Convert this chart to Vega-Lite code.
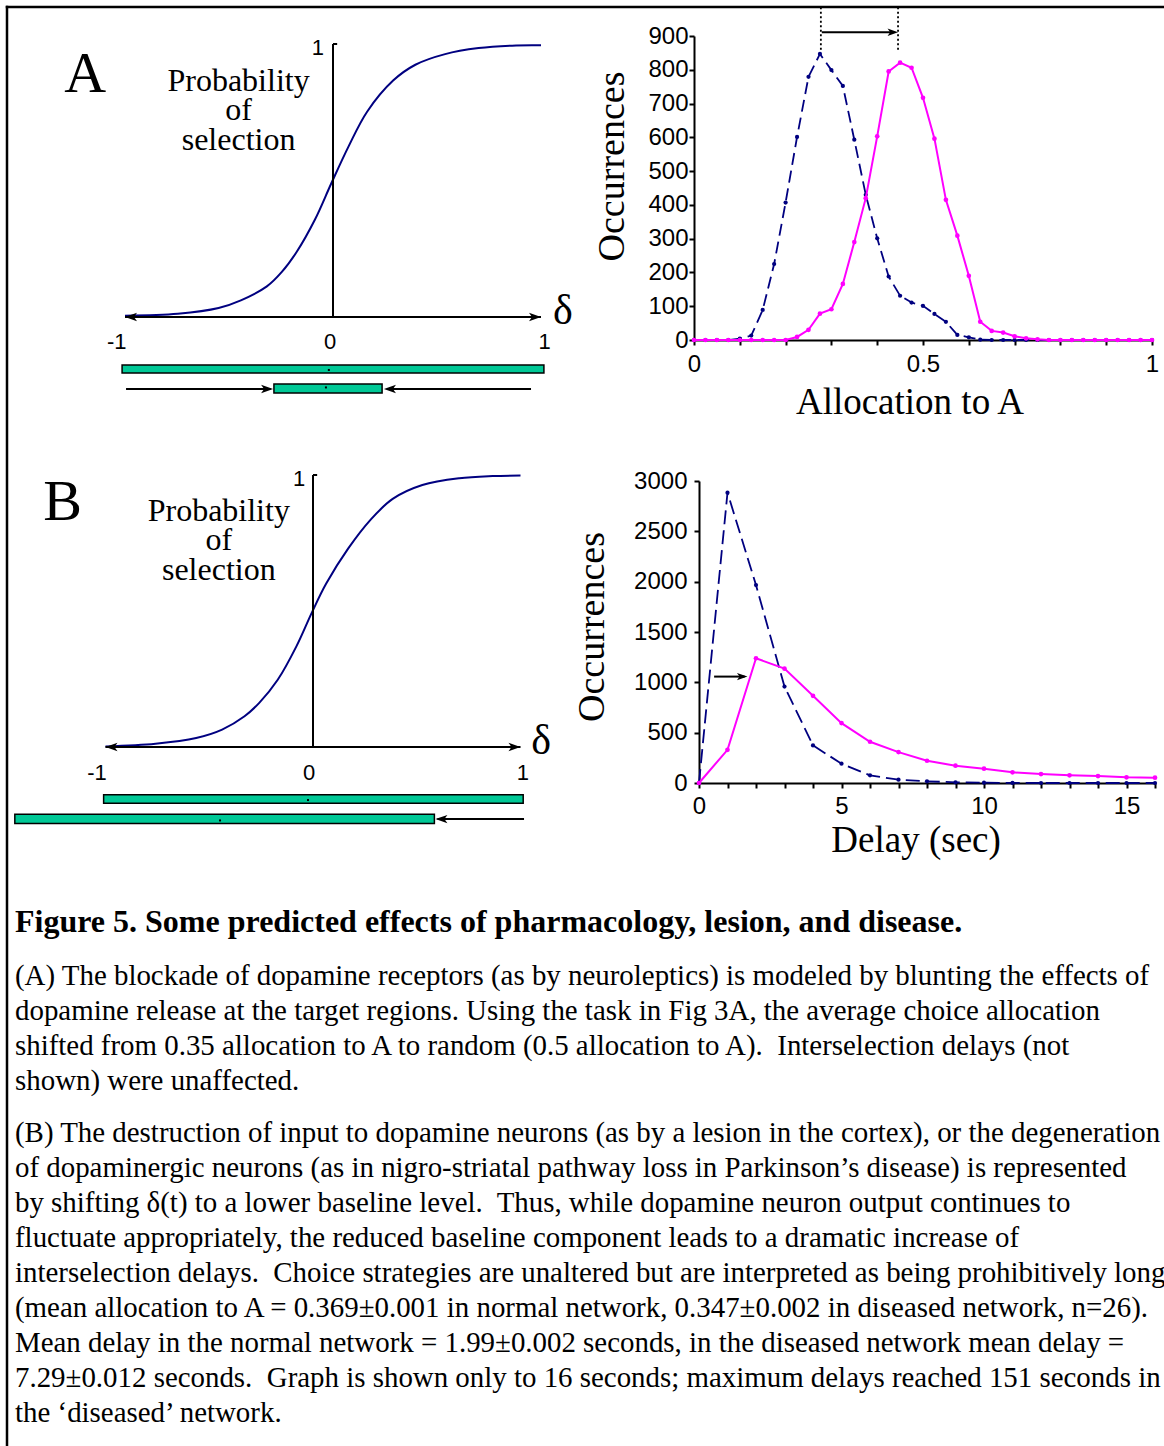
{
  "$schema": "https://vega.github.io/schema/vega-lite/v6.json",
  "width": 1164,
  "height": 1446,
  "autosize": "none",
  "padding": 0,
  "background": "white",
  "config": {
    "view": {"stroke": null},
    "axis": {"domainColor": "black", "tickColor": "black", "labelColor": "black", "titleColor": "black", "domainWidth": 2, "tickWidth": 2, "tickSize": 5, "grid": false, "labelFont": "Liberation Sans", "labelFontSize": 24, "titleFont": "Liberation Serif", "titleFontWeight": "normal", "labelFlush": false, "labelOverlap": false}
  },
  "resolve": {"scale": {"x": "independent", "y": "independent"}, "axis": {"x": "independent", "y": "independent"}},
  "datasets": {
    "sigmoid": [
      {"panel":"A","x":-1,"y":0.005},{"panel":"A","x":-0.746,"y":0.012},{"panel":"A","x":-0.55,"y":0.033},{"panel":"A","x":-0.443,"y":0.061},{"panel":"A","x":-0.318,"y":0.112},{"panel":"A","x":-0.246,"y":0.165},{"panel":"A","x":-0.175,"y":0.238},{"panel":"A","x":-0.086,"y":0.358},{"panel":"A","x":-0.009,"y":0.488},{"panel":"A","x":0.075,"y":0.625},{"panel":"A","x":0.164,"y":0.752},{"panel":"A","x":0.289,"y":0.866},{"panel":"A","x":0.396,"y":0.924},{"panel":"A","x":0.539,"y":0.963},{"panel":"A","x":0.7,"y":0.985},{"panel":"A","x":0.861,"y":0.994},{"panel":"A","x":1,"y":0.995},
      {"panel":"B","x":-1,"y":0.002},{"panel":"B","x":-0.759,"y":0.012},{"panel":"B","x":-0.563,"y":0.033},{"panel":"B","x":-0.438,"y":0.064},{"panel":"B","x":-0.33,"y":0.113},{"panel":"B","x":-0.259,"y":0.162},{"panel":"B","x":-0.17,"y":0.247},{"panel":"B","x":-0.08,"y":0.37},{"panel":"B","x":-0.005,"y":0.495},{"panel":"B","x":0.063,"y":0.6},{"panel":"B","x":0.17,"y":0.73},{"panel":"B","x":0.277,"y":0.835},{"panel":"B","x":0.384,"y":0.912},{"panel":"B","x":0.527,"y":0.963},{"panel":"B","x":0.705,"y":0.988},{"panel":"B","x":0.866,"y":0.996},{"panel":"B","x":1,"y":0.998}
    ],
    "leftBars": [
      {"panel":"A","x":-1.014,"x2":1.014,"y":-0.205,"y2":-0.176},
      {"panel":"A","x":-0.284,"x2":0.236,"y":-0.278,"y2":-0.245},
      {"panel":"B","x":-1.009,"x2":1.013,"y":-0.207,"y2":-0.176},
      {"panel":"B","x":-1.437,"x2":0.585,"y":-0.281,"y2":-0.247}
    ],
    "leftDots": [
      {"panel":"A","x":-0.02,"y":-0.194},{"panel":"A","x":-0.034,"y":-0.258},
      {"panel":"B","x":-0.024,"y":-0.195},{"panel":"B","x":-0.448,"y":-0.27}
    ],
    "leftRules": [
      {"panel":"A","x":-1,"x2":1,"y":0,"y2":0},{"panel":"A","x":0,"x2":0,"y":0,"y2":1},{"panel":"A","x":0,"x2":0.02,"y":1,"y2":1},{"panel":"A","x":-0.995,"x2":-0.3,"y":-0.264,"y2":-0.264},{"panel":"A","x":0.952,"x2":0.26,"y":-0.264,"y2":-0.264},
      {"panel":"B","x":-1,"x2":1,"y":0,"y2":0},{"panel":"B","x":0,"x2":0,"y":0,"y2":1},{"panel":"B","x":0,"x2":0.02,"y":1,"y2":1},{"panel":"B","x":1.017,"x2":0.6,"y":-0.265,"y2":-0.265}
    ],
    "leftHeads": [
      {"panel":"A","x":-1,"y":0,"dir":"left"},{"panel":"A","x":1,"y":0,"dir":"right"},{"panel":"A","x":-0.288,"y":-0.264,"dir":"right"},{"panel":"A","x":0.245,"y":-0.264,"dir":"left"},
      {"panel":"B","x":-1,"y":0,"dir":"left"},{"panel":"B","x":1,"y":0,"dir":"right"},{"panel":"B","x":0.59,"y":-0.265,"dir":"left"}
    ],
    "leftText": [
      {"panel":"A","role":"letter","text":"A","x":-1.192,"y":0.825},
      {"panel":"A","role":"label","text":"Probability\nof\nselection","x":-0.454,"y":0.828},
      {"panel":"A","role":"tick","text":"-1","x":-1.04,"y":-0.093},
      {"panel":"A","role":"tick","text":"0","x":-0.014,"y":-0.093},
      {"panel":"A","role":"tick","text":"1","x":1.017,"y":-0.093},
      {"panel":"A","role":"tick","text":"1","x":-0.073,"y":0.984},
      {"panel":"A","role":"delta","text":"δ","x":1.105,"y":0.022},
      {"panel":"B","role":"letter","text":"B","x":-1.207,"y":0.835},
      {"panel":"B","role":"label","text":"Probability\nof\nselection","x":-0.454,"y":0.831},
      {"panel":"B","role":"tick","text":"-1","x":-1.041,"y":-0.094},
      {"panel":"B","role":"tick","text":"0","x":-0.019,"y":-0.094},
      {"panel":"B","role":"tick","text":"1","x":1.012,"y":-0.094},
      {"panel":"B","role":"tick","text":"1","x":-0.067,"y":0.985},
      {"panel":"B","role":"delta","text":"δ","x":1.1,"y":0.022}
    ],
    "allocA": [
      {"series":"normal","x":0,"y":0},{"series":"normal","x":0.025,"y":0},{"series":"normal","x":0.05,"y":0},{"series":"normal","x":0.075,"y":0},{"series":"normal","x":0.1,"y":4},{"series":"normal","x":0.125,"y":13},{"series":"normal","x":0.15,"y":89},{"series":"normal","x":0.175,"y":225},{"series":"normal","x":0.2,"y":407},{"series":"normal","x":0.225,"y":601},{"series":"normal","x":0.25,"y":779},{"series":"normal","x":0.275,"y":847},{"series":"normal","x":0.3,"y":799},{"series":"normal","x":0.325,"y":752},{"series":"normal","x":0.35,"y":593},{"series":"normal","x":0.375,"y":430},{"series":"normal","x":0.4,"y":301},{"series":"normal","x":0.425,"y":188},{"series":"normal","x":0.45,"y":131},{"series":"normal","x":0.475,"y":111},{"series":"normal","x":0.5,"y":101},{"series":"normal","x":0.525,"y":77},{"series":"normal","x":0.55,"y":54},{"series":"normal","x":0.575,"y":15},{"series":"normal","x":0.6,"y":8},{"series":"normal","x":0.625,"y":1},{"series":"normal","x":0.65,"y":0},{"series":"normal","x":0.675,"y":0},{"series":"normal","x":0.7,"y":0},{"series":"normal","x":0.725,"y":0},{"series":"normal","x":0.75,"y":0},{"series":"normal","x":0.775,"y":0},{"series":"normal","x":0.8,"y":0},{"series":"normal","x":0.825,"y":0},{"series":"normal","x":0.85,"y":0},{"series":"normal","x":0.875,"y":0},{"series":"normal","x":0.9,"y":0},{"series":"normal","x":0.925,"y":0},{"series":"normal","x":0.95,"y":0},{"series":"normal","x":0.975,"y":0},{"series":"normal","x":1,"y":0},
      {"series":"blocked","x":0,"y":0},{"series":"blocked","x":0.025,"y":0},{"series":"blocked","x":0.05,"y":0},{"series":"blocked","x":0.075,"y":0},{"series":"blocked","x":0.1,"y":0},{"series":"blocked","x":0.125,"y":0},{"series":"blocked","x":0.15,"y":0},{"series":"blocked","x":0.175,"y":0},{"series":"blocked","x":0.2,"y":0},{"series":"blocked","x":0.225,"y":9},{"series":"blocked","x":0.25,"y":30},{"series":"blocked","x":0.275,"y":78},{"series":"blocked","x":0.3,"y":91},{"series":"blocked","x":0.325,"y":166},{"series":"blocked","x":0.35,"y":290},{"series":"blocked","x":0.375,"y":420},{"series":"blocked","x":0.4,"y":603},{"series":"blocked","x":0.425,"y":795},{"series":"blocked","x":0.45,"y":821},{"series":"blocked","x":0.475,"y":806},{"series":"blocked","x":0.5,"y":717},{"series":"blocked","x":0.525,"y":596},{"series":"blocked","x":0.55,"y":415},{"series":"blocked","x":0.575,"y":309},{"series":"blocked","x":0.6,"y":190},{"series":"blocked","x":0.625,"y":54},{"series":"blocked","x":0.65,"y":27},{"series":"blocked","x":0.675,"y":22},{"series":"blocked","x":0.7,"y":11},{"series":"blocked","x":0.725,"y":5},{"series":"blocked","x":0.75,"y":2},{"series":"blocked","x":0.775,"y":0},{"series":"blocked","x":0.8,"y":0},{"series":"blocked","x":0.825,"y":0},{"series":"blocked","x":0.85,"y":0},{"series":"blocked","x":0.875,"y":0},{"series":"blocked","x":0.9,"y":0},{"series":"blocked","x":0.925,"y":0},{"series":"blocked","x":0.95,"y":0},{"series":"blocked","x":0.975,"y":0},{"series":"blocked","x":1,"y":0}
    ],
    "delayB": [
      {"series":"normal","x":0,"y":0},{"series":"normal","x":1,"y":2884},{"series":"normal","x":2,"y":1966},{"series":"normal","x":3,"y":958},{"series":"normal","x":4,"y":373},{"series":"normal","x":5,"y":192},{"series":"normal","x":6,"y":76},{"series":"normal","x":7,"y":33},{"series":"normal","x":8,"y":17},{"series":"normal","x":9,"y":7},{"series":"normal","x":10,"y":3},{"series":"normal","x":11,"y":1},{"series":"normal","x":12,"y":0},{"series":"normal","x":13,"y":0},{"series":"normal","x":14,"y":0},{"series":"normal","x":15,"y":0},{"series":"normal","x":16,"y":0},
      {"series":"diseased","x":0,"y":0},{"series":"diseased","x":1,"y":330},{"series":"diseased","x":2,"y":1239},{"series":"diseased","x":3,"y":1136},{"series":"diseased","x":4,"y":866},{"series":"diseased","x":5,"y":595},{"series":"diseased","x":6,"y":410},{"series":"diseased","x":7,"y":307},{"series":"diseased","x":8,"y":221},{"series":"diseased","x":9,"y":172},{"series":"diseased","x":10,"y":142},{"series":"diseased","x":11,"y":106},{"series":"diseased","x":12,"y":89},{"series":"diseased","x":13,"y":76},{"series":"diseased","x":14,"y":69},{"series":"diseased","x":15,"y":56},{"series":"diseased","x":16,"y":53}
    ],
    "notes": [
      {"panel":"A","kind":"dot","x":0.277,"x2":0.277,"y":985,"y2":852},
      {"panel":"A","kind":"dot","x":0.4455,"x2":0.4455,"y":985,"y2":856},
      {"panel":"A","kind":"shaft","x":0.279,"x2":0.43,"y":911,"y2":911},
      {"panel":"A","kind":"head","x":0.4455,"x2":0.4455,"y":911,"y2":911,"dir":"right"},
      {"panel":"B","kind":"shaft","x":0.53,"x2":1.6,"y":1057,"y2":1057},
      {"panel":"B","kind":"head","x":1.7,"x2":1.7,"y":1057,"y2":1057,"dir":"right"}
    ],
    "caption": [
      {"line":0,"kind":"title","text":"Figure 5. Some predicted effects of pharmacology, lesion, and disease."},
      {"line":1.5,"kind":"body","text":"(A) The blockade of dopamine receptors (as by neuroleptics) is modeled by blunting the effects of"},
      {"line":2.5,"kind":"body","text":"dopamine release at the target regions. Using the task in Fig 3A, the average choice allocation"},
      {"line":3.5,"kind":"body","text":"shifted from 0.35 allocation to A to random (0.5 allocation to A).\u00a0 Interselection delays (not"},
      {"line":4.5,"kind":"body","text":"shown) were unaffected."},
      {"line":6,"kind":"body","text":"(B) The destruction of input to dopamine neurons (as by a lesion in the cortex), or the degeneration"},
      {"line":7,"kind":"body","text":"of dopaminergic neurons (as in nigro-striatal pathway loss in Parkinson’s disease) is represented"},
      {"line":8,"kind":"body","text":"by shifting δ(t) to a lower baseline level.\u00a0 Thus, while dopamine neuron output continues to"},
      {"line":9,"kind":"body","text":"fluctuate appropriately, the reduced baseline component leads to a dramatic increase of"},
      {"line":10,"kind":"body","text":"interselection delays.\u00a0 Choice strategies are unaltered but are interpreted as being prohibitively long"},
      {"line":11,"kind":"body","text":"(mean allocation to A = 0.369±0.001 in normal network, 0.347±0.002 in diseased network, n=26)."},
      {"line":12,"kind":"body","text":"Mean delay in the normal network = 1.99±0.002 seconds, in the diseased network mean delay ="},
      {"line":13,"kind":"body","text":"7.29±0.012 seconds.\u00a0 Graph is shown only to 16 seconds; maximum delays reached 151 seconds in"},
      {"line":14,"kind":"body","text":"the ‘diseased’ network."}
    ]
  },
  "layer": [
    {
      "data": {"values": [{"x":0,"x2":0,"y":0,"y2":1},{"x":0,"x2":1,"y":0,"y2":0}]},
      "mark": {"type": "rule", "color": "black", "strokeWidth": 2.5, "strokeCap": "square"},
      "encoding": {
        "x": {"field": "x", "type": "quantitative", "scale": {"domain": [0, 1], "range": [7, 1164], "nice": false, "zero": false}, "axis": null},
        "x2": {"field": "x2"},
        "y": {"field": "y", "type": "quantitative", "scale": {"domain": [0, 1], "range": [7, 1446], "nice": false, "zero": false}, "axis": null},
        "y2": {"field": "y2"}
      }
    },
    {
      "encoding": {
        "x": {"field": "x", "type": "quantitative", "scale": {"domain": [-1, 1], "range": [125, 541], "nice": false, "zero": false}, "axis": null},
        "y": {"field": "y", "type": "quantitative", "scale": {"domain": [0, 1], "range": [317, 44], "nice": false, "zero": false}, "axis": null}
      },
      "layer": [
        {"data": {"name": "leftBars"}, "transform": [{"filter": "datum.panel == 'A'"}], "mark": {"type": "rect", "fill": "#00c896", "stroke": "black", "strokeWidth": 1.5}, "encoding": {"x2": {"field": "x2"}, "y2": {"field": "y2"}}},
        {"data": {"name": "leftDots"}, "transform": [{"filter": "datum.panel == 'A'"}], "mark": {"type": "point", "shape": "square", "filled": true, "color": "black", "size": 4, "opacity": 1}},
        {"data": {"name": "sigmoid"}, "transform": [{"filter": "datum.panel == 'A'"}], "mark": {"type": "line", "color": "#000080", "strokeWidth": 2, "interpolate": "catmull-rom"}},
        {"data": {"name": "leftRules"}, "transform": [{"filter": "datum.panel == 'A'"}], "mark": {"type": "rule", "color": "black", "strokeWidth": 2}, "encoding": {"x2": {"field": "x2"}, "y2": {"field": "y2"}}},
        {"data": {"name": "leftHeads"}, "transform": [{"filter": "datum.panel == 'A'"}], "mark": {"type": "point", "filled": true, "color": "black", "size": 144, "strokeWidth": 0, "opacity": 1},
         "encoding": {"shape": {"field": "dir", "type": "nominal", "scale": {"domain": ["left", "right"], "range": ["M 2 -0.7 L 0 0 L 2 0.7 L 1.5 0 Z", "M -2 -0.7 L 0 0 L -2 0.7 L -1.5 0 Z"]}, "legend": null}}},
        {"data": {"name": "leftText"}, "transform": [{"filter": "datum.panel == 'A' && datum.role == 'letter'"}], "mark": {"type": "text", "font": "Liberation Serif", "fontSize": 58, "align": "center", "baseline": "alphabetic", "color": "black"}, "encoding": {"text": {"field": "text", "type": "nominal"}}},
        {"data": {"name": "leftText"}, "transform": [{"filter": "datum.panel == 'A' && datum.role == 'label'"}], "mark": {"type": "text", "font": "Liberation Serif", "fontSize": 32, "align": "center", "baseline": "alphabetic", "lineBreak": "\n", "lineHeight": 29.5, "color": "black"}, "encoding": {"text": {"field": "text", "type": "nominal"}}},
        {"data": {"name": "leftText"}, "transform": [{"filter": "datum.panel == 'A' && datum.role == 'tick'"}], "mark": {"type": "text", "font": "Liberation Sans", "fontSize": 22, "align": "center", "baseline": "middle", "color": "black"}, "encoding": {"text": {"field": "text", "type": "nominal"}}},
        {"data": {"name": "leftText"}, "transform": [{"filter": "datum.panel == 'A' && datum.role == 'delta'"}], "mark": {"type": "text", "font": "Liberation Serif", "fontSize": 42, "align": "center", "baseline": "middle", "color": "black"}, "encoding": {"text": {"field": "text", "type": "nominal"}}}
      ]
    },
    {
      "encoding": {
        "x": {"field": "x", "type": "quantitative", "scale": {"domain": [0, 1], "range": [694, 1152], "nice": false, "zero": false},
              "axis": {"orient": "bottom", "offset": -1106, "values": [0, 0.1, 0.2, 0.3, 0.4, 0.5, 0.6, 0.7, 0.8, 0.9, 1], "format": "~g", "labelExpr": "datum.value == 0 || datum.value == 0.5 || datum.value == 1 ? datum.label : ''", "labelPadding": 7, "title": "Allocation to A", "titleFontSize": 37, "titleX": 909.5, "titleY": 73, "titleBaseline": "alphabetic", "titleAlign": "center"}},
        "y": {"field": "y", "type": "quantitative", "scale": {"domain": [0, 900], "range": [340, 36], "nice": false, "zero": false},
              "axis": {"orient": "left", "offset": -694, "values": [0, 100, 200, 300, 400, 500, 600, 700, 800, 900], "format": "d", "labelPadding": 1, "title": "Occurrences", "titleFontSize": 38, "titleX": -71, "titleY": 166, "titleBaseline": "alphabetic", "titleAlign": "center", "titleAngle": 270}}
      },
      "layer": [
        {"data": {"name": "allocA"}, "transform": [{"filter": "datum.series == 'normal'"}], "mark": {"type": "line", "color": "#000080", "strokeWidth": 1.8, "strokeDash": [12, 6]}},
        {"data": {"name": "allocA"}, "transform": [{"filter": "datum.series == 'normal'"}], "mark": {"type": "point", "filled": true, "color": "#000080", "size": 18, "opacity": 1}},
        {"data": {"name": "allocA"}, "transform": [{"filter": "datum.series == 'blocked'"}], "mark": {"type": "line", "color": "#ff00ff", "strokeWidth": 2}},
        {"data": {"name": "allocA"}, "transform": [{"filter": "datum.series == 'blocked'"}], "mark": {"type": "point", "filled": true, "color": "#ff00ff", "size": 22, "opacity": 1}},
        {"data": {"name": "notes"}, "transform": [{"filter": "datum.panel == 'A' && datum.kind == 'dot'"}], "mark": {"type": "rule", "color": "black", "strokeWidth": 1.8, "strokeDash": [2, 2.5]}, "encoding": {"y2": {"field": "y2"}}},
        {"data": {"name": "notes"}, "transform": [{"filter": "datum.panel == 'A' && datum.kind == 'shaft'"}], "mark": {"type": "rule", "color": "black", "strokeWidth": 2}, "encoding": {"x2": {"field": "x2"}}},
        {"data": {"name": "notes"}, "transform": [{"filter": "datum.panel == 'A' && datum.kind == 'head'"}], "mark": {"type": "point", "filled": true, "color": "black", "size": 110, "strokeWidth": 0, "opacity": 1},
         "encoding": {"shape": {"field": "dir", "type": "nominal", "scale": {"domain": ["left", "right"], "range": ["M 2 -0.7 L 0 0 L 2 0.7 L 1.5 0 Z", "M -2 -0.7 L 0 0 L -2 0.7 L -1.5 0 Z"]}, "legend": null}}}
      ]
    },
    {
      "encoding": {
        "x": {"field": "x", "type": "quantitative", "scale": {"domain": [-1, 1], "range": [105.5, 520.5], "nice": false, "zero": false}, "axis": null},
        "y": {"field": "y", "type": "quantitative", "scale": {"domain": [0, 1], "range": [747, 475], "nice": false, "zero": false}, "axis": null}
      },
      "layer": [
        {"data": {"name": "leftBars"}, "transform": [{"filter": "datum.panel == 'B'"}], "mark": {"type": "rect", "fill": "#00c896", "stroke": "black", "strokeWidth": 1.5}, "encoding": {"x2": {"field": "x2"}, "y2": {"field": "y2"}}},
        {"data": {"name": "leftDots"}, "transform": [{"filter": "datum.panel == 'B'"}], "mark": {"type": "point", "shape": "square", "filled": true, "color": "black", "size": 4, "opacity": 1}},
        {"data": {"name": "sigmoid"}, "transform": [{"filter": "datum.panel == 'B'"}], "mark": {"type": "line", "color": "#000080", "strokeWidth": 2, "interpolate": "catmull-rom"}},
        {"data": {"name": "leftRules"}, "transform": [{"filter": "datum.panel == 'B'"}], "mark": {"type": "rule", "color": "black", "strokeWidth": 2}, "encoding": {"x2": {"field": "x2"}, "y2": {"field": "y2"}}},
        {"data": {"name": "leftHeads"}, "transform": [{"filter": "datum.panel == 'B'"}], "mark": {"type": "point", "filled": true, "color": "black", "size": 144, "strokeWidth": 0, "opacity": 1},
         "encoding": {"shape": {"field": "dir", "type": "nominal", "scale": {"domain": ["left", "right"], "range": ["M 2 -0.7 L 0 0 L 2 0.7 L 1.5 0 Z", "M -2 -0.7 L 0 0 L -2 0.7 L -1.5 0 Z"]}, "legend": null}}},
        {"data": {"name": "leftText"}, "transform": [{"filter": "datum.panel == 'B' && datum.role == 'letter'"}], "mark": {"type": "text", "font": "Liberation Serif", "fontSize": 58, "align": "center", "baseline": "alphabetic", "color": "black"}, "encoding": {"text": {"field": "text", "type": "nominal"}}},
        {"data": {"name": "leftText"}, "transform": [{"filter": "datum.panel == 'B' && datum.role == 'label'"}], "mark": {"type": "text", "font": "Liberation Serif", "fontSize": 32, "align": "center", "baseline": "alphabetic", "lineBreak": "\n", "lineHeight": 29.5, "color": "black"}, "encoding": {"text": {"field": "text", "type": "nominal"}}},
        {"data": {"name": "leftText"}, "transform": [{"filter": "datum.panel == 'B' && datum.role == 'tick'"}], "mark": {"type": "text", "font": "Liberation Sans", "fontSize": 22, "align": "center", "baseline": "middle", "color": "black"}, "encoding": {"text": {"field": "text", "type": "nominal"}}},
        {"data": {"name": "leftText"}, "transform": [{"filter": "datum.panel == 'B' && datum.role == 'delta'"}], "mark": {"type": "text", "font": "Liberation Serif", "fontSize": 42, "align": "center", "baseline": "middle", "color": "black"}, "encoding": {"text": {"field": "text", "type": "nominal"}}}
      ]
    },
    {
      "encoding": {
        "x": {"field": "x", "type": "quantitative", "scale": {"domain": [0, 16], "range": [699, 1155], "nice": false, "zero": false},
              "axis": {"orient": "bottom", "offset": -663, "values": [0, 1, 2, 3, 4, 5, 6, 7, 8, 9, 10, 11, 12, 13, 14, 15, 16], "format": "d", "labelExpr": "datum.value % 5 == 0 ? datum.label : ''", "labelPadding": 6, "title": "Delay (sec)", "titleFontSize": 37, "titleX": 915.6, "titleY": 68, "titleBaseline": "alphabetic", "titleAlign": "center"}},
        "y": {"field": "y", "type": "quantitative", "scale": {"domain": [0, 3000], "range": [783, 481], "nice": false, "zero": false},
              "axis": {"orient": "left", "offset": -699, "values": [0, 500, 1000, 1500, 2000, 2500, 3000], "format": "d", "labelPadding": 7, "title": "Occurrences", "titleFontSize": 38, "titleX": -96, "titleY": 626.5, "titleBaseline": "alphabetic", "titleAlign": "center", "titleAngle": 270}}
      },
      "layer": [
        {"data": {"name": "delayB"}, "transform": [{"filter": "datum.series == 'normal'"}], "mark": {"type": "line", "color": "#000080", "strokeWidth": 1.8, "strokeDash": [14, 6]}},
        {"data": {"name": "delayB"}, "transform": [{"filter": "datum.series == 'normal'"}], "mark": {"type": "point", "filled": true, "color": "#000080", "size": 18, "opacity": 1}},
        {"data": {"name": "delayB"}, "transform": [{"filter": "datum.series == 'diseased'"}], "mark": {"type": "line", "color": "#ff00ff", "strokeWidth": 2}},
        {"data": {"name": "delayB"}, "transform": [{"filter": "datum.series == 'diseased'"}], "mark": {"type": "point", "filled": true, "color": "#ff00ff", "size": 22, "opacity": 1}},
        {"data": {"name": "notes"}, "transform": [{"filter": "datum.panel == 'B' && datum.kind == 'shaft'"}], "mark": {"type": "rule", "color": "black", "strokeWidth": 2}, "encoding": {"x2": {"field": "x2"}}},
        {"data": {"name": "notes"}, "transform": [{"filter": "datum.panel == 'B' && datum.kind == 'head'"}], "mark": {"type": "point", "filled": true, "color": "black", "size": 110, "strokeWidth": 0, "opacity": 1},
         "encoding": {"shape": {"field": "dir", "type": "nominal", "scale": {"domain": ["left", "right"], "range": ["M 2 -0.7 L 0 0 L 2 0.7 L 1.5 0 Z", "M -2 -0.7 L 0 0 L -2 0.7 L -1.5 0 Z"]}, "legend": null}}}
      ]
    },
    {
      "data": {"name": "caption"},
      "encoding": {
        "x": {"datum": 0, "type": "quantitative", "scale": {"domain": [0, 1], "range": [15, 1164], "nice": false, "zero": false}, "axis": null},
        "y": {"field": "line", "type": "quantitative", "scale": {"domain": [0, 14], "range": [932, 1422.4], "nice": false, "zero": false}, "axis": null},
        "text": {"field": "text", "type": "nominal"}
      },
      "layer": [
        {"transform": [{"filter": "datum.kind == 'title'"}], "mark": {"type": "text", "font": "Liberation Serif", "fontSize": 32, "fontWeight": "bold", "align": "left", "baseline": "alphabetic", "color": "black"}},
        {"transform": [{"filter": "datum.kind == 'body'"}], "mark": {"type": "text", "font": "Liberation Serif", "fontSize": 28.9, "align": "left", "baseline": "alphabetic", "color": "black"}}
      ]
    }
  ]
}
